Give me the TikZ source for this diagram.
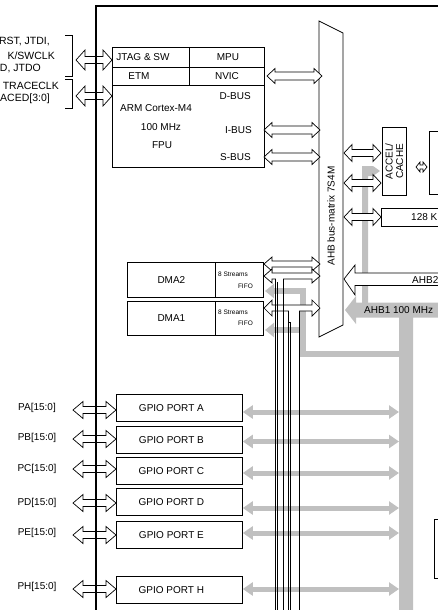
\documentclass[tikz,border=0pt]{standalone}
\usepackage{fontspec}
\setmainfont{Liberation Sans}
\usetikzlibrary{arrows.meta}
\definecolor{CB}{HTML}{c0c0c0}
\tikzset{
	lbl/.style  = {font=\fontsize{10}{12}\selectfont, inner sep=0pt},
	pin/.style  = {font=\fontsize{10.5}{12}\selectfont, inner sep=0pt, anchor=east},
	tiny/.style = {font=\fontsize{6.5}{8}\selectfont, inner sep=0pt},
	blk/.style  = {draw, line width=0.8pt, inner sep=0pt, font=\fontsize{10}{12}\selectfont},
	hol/.style  = {draw, fill=white, line width=0.7pt, line join=miter},
	gar/.style  = {{Triangle[length=10pt 0 0,width=13pt 0 0]}-{Triangle[length=10pt 0 0,width=13pt 0 0]},
		draw=CB, line width=5pt},
	gtip/.style = {-{Triangle[length=9pt 0 0,width=14pt 0 0]}, draw=CB, line width=6pt},
}
%% hollow double arrow: name, x left tip, x right tip, y, shaft half, head half, head length
\newcommand{\dblarr}[7]{%
	\draw[hol] (#2,#4) -- ({#2+#7},{#4-#6}) -- ({#2+#7},{#4-#5}) -- ({#3-#7},{#4-#5})
	-- ({#3-#7},{#4-#6}) -- (#3,#4) -- ({#3-#7},{#4+#6}) -- ({#3-#7},{#4+#5})
	-- ({#2+#7},{#4+#5}) -- ({#2+#7},{#4+#6}) -- cycle;
	\coordinate (#1) at ({(#2+#3)/2},#4);}

\begin{document}
\begin{tikzpicture}[x=1pt, y=-1pt]
	
	%% canvas 438 x 610, y grows downwards
	\useasboundingbox (0,0) rectangle (438,610);
	\clip (0,0) rectangle (438,610);
	
	%%═══════════════════════════════════════════════════════════════════
	%% GREY BUSES  (under everything else)
	%%═══════════════════════════════════════════════════════════════════
	\coordinate (ahbbar) at (399,460);
	%% AHB1 arrow and its vertical trunk
	\fill[CB] (345,310) -- (356,296) -- (356,302.5) -- (440,302.5) -- (440,317.5)
	-- (413,317.5) -- (413,612) -- (399,612) -- (399,317.5) -- (356,317.5) -- (356,324) -- cycle;
	\node[lbl, anchor=west] (ahbone) at (364,310) {AHB1 100 MHz};
	%% thin riser towards the cache
	\fill[CB] (362,303) -- (362,166) -- (373,166) -- (380,171) -- (373,176)
	-- (368,176) -- (368,303) -- cycle;
	%% DMA memory ports
	\draw[gtip] (ahbbar |- 0,354) -- (303,354) -- (303,291) -- (265,291);
	\draw[gtip] (303,330) -- (265,330);
	
	%%═══════════════════════════════════════════════════════════════════
	%% CORTEX-M4 BLOCK
	%%═══════════════════════════════════════════════════════════════════
	\node[blk, anchor=north west, minimum width=152pt, minimum height=120pt] (cortex) at (112,47) {};
	\draw[line width=0.8pt] (112,67) -- (264,67);
	\draw[line width=0.8pt] (112,85) -- (264,85);
	\draw[line width=0.8pt] (189,47) -- (189,85);
	\node[lbl] (jtag) at (143,57) {JTAG \& SW};
	\node[lbl] (etm)  at (139,76) {ETM};
	\node[lbl] (mpu)  at (228,57) {MPU};
	\node[lbl] (nvic) at (227,76) {NVIC};
	\node[lbl] (cm4)  at (156,108) {ARM Cortex-M4};
	\node[lbl] (freq) at (161,127) {100 MHz};
	\node[lbl] (fpu)  at (162,145) {FPU};
	\node[lbl, anchor=east] (dbus) at (251,96)  {D-BUS};
	\node[lbl, anchor=east] (ibus) at (252,130) {I-BUS};
	\node[lbl, anchor=east] (sbus) at (251,157) {S-BUS};
	
	%%═══════════════════════════════════════════════════════════════════
	%% BUS MATRIX
	%%═══════════════════════════════════════════════════════════════════
	\draw[fill=white, line width=0.8pt] (319,21) -- (343,33) -- (343,325) -- (319,337) -- cycle;
	\node[lbl, rotate=90] (mtx) at (331,216) {AHB bus-matrix 7S4M};
	
	\dblarr{nvicA}{267}{322}{76}{4}{7.5}{8}
	\dblarr{ibusA}{264}{320}{130}{4}{7.5}{8}
	\dblarr{sbusA}{264}{320}{157}{4}{7.5}{8}
	
	%%═══════════════════════════════════════════════════════════════════
	%% DMA CONTROLLERS
	%%═══════════════════════════════════════════════════════════════════
	\node[blk, anchor=north west, minimum width=88pt, minimum height=35pt] (dmatwo) at (127,262) {DMA2};
	\node[blk, anchor=north west, minimum width=48pt, minimum height=35pt] (fifotwo) at (215,262) {};
	\node[blk, anchor=north west, minimum width=88pt, minimum height=34pt] (dmaone) at (127,301) {DMA1};
	\node[blk, anchor=north west, minimum width=48pt, minimum height=34pt] (fifoone) at (215,301) {};
	\node[tiny] (strtwo) at (233,274) {8 Streams};
	\node[tiny, anchor=east] (ftwo) at (253,286) {FIFO};
	\node[tiny] (strone) at (233,312) {8 Streams};
	\node[tiny, anchor=east] (fone) at (253,323) {FIFO};
	
	\dblarr{dmaA}{264}{320}{264}{3}{7}{8}
	\dblarr{dmaB}{264}{320}{276}{3}{7}{8}
	\dblarr{dmaC}{264}{320}{308}{3}{8}{8}
	
	%%═══════════════════════════════════════════════════════════════════
	%% GPIO PORTS
	%%═══════════════════════════════════════════════════════════════════
	\foreach \p/\y/\gy in {A/394/412, B/426/441.5, C/457/473, D/488/508, E/521/533, H/576/589}{
		\node[blk, anchor=north west, minimum width=126pt, minimum height=27pt] (gpio\p) at (116,\y) {};
		\node[lbl] (gpio\p txt) at ([xshift=-8pt]gpio\p.center) {GPIO PORT \p};
		\draw[gar] (gpio\p.east |- 0,\gy) -- (ahbbar |- 0,\gy);
	}
	
	%% peripheral ports of the DMAs
	\fill[white] (275.9,278) rectangle (282.6,280.5);
	\draw[line width=0.6pt] (275.5,279) -- (275.5,612);
	\draw[line width=0.6pt] (277.5,282) -- (277.5,612);
	\draw[line width=0.6pt] (283,279) -- (283,612);
	\fill[white] (288.9,310) rectangle (298.6,312.5);
	\draw[line width=0.6pt] (288.5,311) -- (288.5,612);
	\draw[line width=0.6pt] (288.5,322) -- (290.5,322) -- (290.5,612);
	\draw[line width=0.6pt] (299,311) -- (299,612);
	
	%%═══════════════════════════════════════════════════════════════════
	%% MEMORIES AND AHB2  (right edge, cut by the frame)
	%%═══════════════════════════════════════════════════════════════════
	\node[blk, anchor=north west, minimum width=24pt, minimum height=68pt] (accel) at (382,127) {};
	\node[lbl, rotate=90, align=center, font=\fontsize{10}{10.5}\selectfont] (acceltxt) at (accel.center) {ACCEL/\\CACHE};
	\node[blk, anchor=north west, minimum width=30pt, minimum height=63pt] (flash) at (429,131) {};
	\dblarr{flashA}{416}{427}{167}{2}{5}{4}
	\dblarr{cacheA}{344}{381}{153}{3.5}{8.5}{8}
	\dblarr{cacheB}{344}{381}{183}{3.5}{8.5}{8}
	\node[blk, anchor=north west, minimum width=80pt, minimum height=18pt] (sram) at (381,208) {};
	\node[lbl, anchor=west] (sramtxt) at (411,217) {128 K};
	\dblarr{sramA}{344}{381}{217}{3.5}{8.5}{8}
	\draw[hol] (344,279) -- (355,265) -- (355,273) -- (440,273)
	-- (440,285.5) -- (355,285.5) -- (355,295) -- cycle;
	\node[lbl, anchor=west] (ahbtwo) at (412,280) {AHB2};
	\node[blk, anchor=north west, minimum width=20pt, minimum height=59pt] (apb) at (434,519) {};
	
	%%═══════════════════════════════════════════════════════════════════
	%% PINS ON THE LEFT
	%%═══════════════════════════════════════════════════════════════════
	\node[pin] (pin1) at (50,42) {RST, JTDI,};
	\node[pin] (pin2) at (55,56) {K/SWCLK};
	\node[pin] (pin3) at (41,69) {D, JTDO};
	\node[pin] (pin4) at (59,86) {TRACECLK};
	\node[pin] (pin5) at (50,99) {ACED[3:0]};
	\draw[line width=0.8pt] (65,35) -- (72,35) -- (72,76) -- (65,76);
	\draw[line width=0.8pt] (65,79) -- (72,79) -- (72,108) -- (65,108);
	\dblarr{jtagA}{76}{112}{60}{3.5}{10}{9}
	\dblarr{traceA}{76}{112}{96}{3.5}{10}{9}
	
	\foreach \p/\ly/\ay in {A/408/410, B/438/439, C/469/469, D/503/503, E/533/535, H/587/589}{
		\node[lbl] (pin\p) at (37,\ly) {P\p[\ifx\p H1\else15\fi:0]};
		\dblarr{io\p}{73}{116}{\ay}{3.5}{8.5}{10}
	}
	
	%% chip frame
	\draw[line width=1.6pt] (440,6) -- (96,6) -- (96,612);
	
\end{tikzpicture}
\end{document}
